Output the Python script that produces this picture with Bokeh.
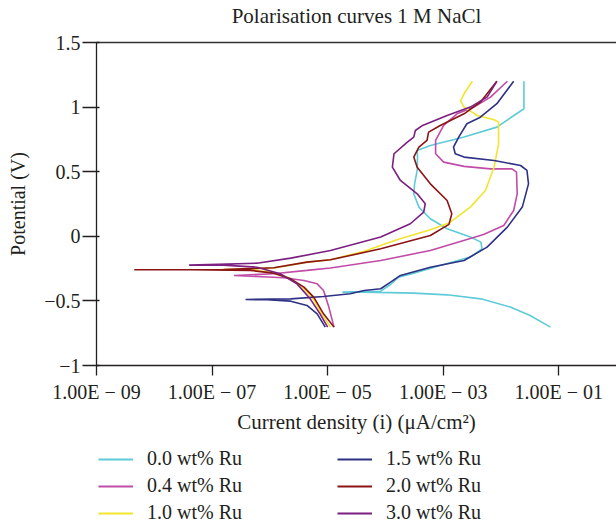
from bokeh.plotting import figure
from bokeh.models import (Range1d, FixedTicker, CustomJSTickFormatter, Legend,
                          LegendItem, LogAxis)
from bokeh.layouts import column
from bokeh.embed import file_html
from bokeh.resources import INLINE

# ---------------- data (current density, potential) ----------------
title_text = "Polarisation curves 1 M NaCl"
x_ticks = [1e-9, 1e-7, 1e-5, 1e-3, 1e-1]
x_tick_labels = ["1.00E \u2212 09", "1.00E \u2212 07", "1.00E \u2212 05",
                 "1.00E \u2212 03", "1.00E \u2212 01"]
y_ticks = [-1, -0.5, 0, 0.5, 1, 1.5]
y_tick_labels = ["\u22121", "\u22120.5", "0", "0.5", "1", "1.5"]

labels = ["0.0 wt% Ru", "0.4 wt% Ru", "1.0 wt% Ru",
          "1.5 wt% Ru", "2.0 wt% Ru", "3.0 wt% Ru"]
colors = ["#5ecbd8", "#c04ca8", "#f2e52e", "#2e3184", "#8b1414", "#7b1f80"]

i_00 = [7.2e-2, 3.2e-2, 1.45e-2, 4.5e-3, 1.17e-3, 3.1e-4, 4.3e-5, 1.8e-5,
        8.3e-5, 1.23e-4, 1.7e-4, 3.1e-4, 8.9e-4, 2.95e-3, 4.7e-3, 4.5e-3,
        2.95e-3, 1.17e-3, 6.0e-4, 3.8e-4, 3.1e-4, 3.2e-4, 3.55e-4, 3.6e-4,
        3.55e-4, 6.0e-4, 2.3e-3, 8.5e-3, 2.5e-2, 2.5e-2]
v_00 = [-0.703, -0.613, -0.548, -0.484, -0.453, -0.44, -0.432, -0.432,
        -0.425, -0.373, -0.316, -0.285, -0.226, -0.161, -0.097, -0.045,
        -0.006, 0.058, 0.136, 0.226, 0.329, 0.406, 0.51, 0.613,
        0.664, 0.703, 0.768, 0.845, 0.987, 1.2]

i_04 = [1.29e-5, 1.05e-5, 8.5e-6, 6.6e-6, 3.9e-6, 1.74e-6, 6.0e-7, 2.4e-7,
        1.17e-6, 4.4e-6, 1.12e-5, 8.3e-5, 6.0e-4, 5.0e-3, 1.12e-2, 1.66e-2,
        1.91e-2, 1.86e-2, 1.55e-2, 6.6e-3, 2.3e-3, 1.02e-3, 7.4e-4, 7.4e-4,
        1.02e-3, 1.74e-3, 3.4e-3, 6.6e-3, 1.29e-2]
v_04 = [-0.703, -0.548, -0.419, -0.368, -0.342, -0.321, -0.311, -0.303,
        -0.29, -0.264, -0.245, -0.187, -0.11, 0.014, 0.084, 0.2,
        0.329, 0.497, 0.522, 0.522, 0.541, 0.574, 0.639, 0.742,
        0.858, 0.948, 1.0, 1.077, 1.2]

i_10 = [1.12e-5, 7.9e-6, 5.4e-6, 3.4e-6, 2.0e-6, 1.02e-6, 4.6e-7, 1.23e-7,
        1.17e-6, 4.4e-6, 1.12e-5, 4.3e-5, 1.58e-4, 6.0e-4, 1.26e-3, 2.95e-3,
        5.4e-3, 7.6e-3, 9.1e-3, 9.1e-3, 7.6e-3, 3.9e-3, 2.3e-3, 2.0e-3,
        2.3e-3, 3.2e-3]
v_10 = [-0.703, -0.6, -0.471, -0.38, -0.316, -0.277, -0.259, -0.259,
        -0.246, -0.2, -0.182, -0.115, -0.027, 0.05, 0.102, 0.226,
        0.355, 0.535, 0.716, 0.884, 0.902, 0.935, 1.0, 1.051,
        1.103, 1.2]

i_15 = [9.1e-6, 6.6e-6, 4.4e-6, 2.3e-6, 8.9e-7, 3.8e-7,
        2.3e-6, 8.5e-6, 2.45e-5, 4.3e-5, 8.3e-5, 1.23e-4, 1.82e-4, 6.0e-4,
        2.3e-3, 5.75e-3, 1.29e-2, 2.34e-2, 3.0e-2, 2.82e-2, 2.19e-2, 7.6e-3,
        2.3e-3, 1.62e-3, 1.51e-3, 1.86e-3, 2.57e-3, 4.4e-3, 8.5e-3, 1.66e-2]
v_15 = [-0.703, -0.6, -0.535, -0.502, -0.491, -0.489,
        -0.484, -0.466, -0.445, -0.419, -0.406, -0.355, -0.303, -0.239,
        -0.187, -0.084, 0.071, 0.226, 0.406, 0.51, 0.548, 0.587,
        0.613, 0.639, 0.69, 0.768, 0.871, 0.922, 1.026, 1.2]

i_20 = [1.29e-5, 8.5e-6, 5.75e-6, 3.9e-6, 2.3e-6, 1.17e-6, 4.6e-7, 4.3e-8,
        4.5e-9, 1.58e-7, 1.17e-6, 4.4e-6, 1.12e-5, 8.3e-5, 6.0e-4, 1.26e-3,
        1.41e-3, 1.17e-3, 6.0e-4, 3.55e-4, 3.1e-4, 3.8e-4, 5.25e-4, 5.6e-4,
        8.9e-4, 2.3e-3, 4.4e-3, 8.5e-3]
v_20 = [-0.703, -0.6, -0.471, -0.393, -0.329, -0.285, -0.264, -0.259,
        -0.259, -0.257, -0.244, -0.2, -0.182, -0.097, 0.006, 0.092,
        0.174, 0.277, 0.406, 0.535, 0.613, 0.69, 0.742, 0.806,
        0.858, 0.948, 1.038, 1.2]

i_30 = [1.0e-5, 7.4e-6, 5.0e-6, 2.95e-6, 1.51e-6, 6.0e-7, 1.58e-7, 4.0e-8,
        6.0e-7, 2.3e-6, 1.12e-5, 8.3e-5, 2.7e-4, 4.6e-4, 4.9e-4, 3.55e-4,
        1.82e-4, 1.32e-4, 1.41e-4, 2.4e-4, 3.1e-4, 3.3e-4, 4.4e-4, 1.17e-3,
        2.95e-3, 5.75e-3, 8.5e-3]
v_30 = [-0.703, -0.6, -0.484, -0.368, -0.29, -0.239, -0.223, -0.223,
        -0.208, -0.169, -0.11, -0.006, 0.097, 0.187, 0.252, 0.329,
        0.432, 0.535, 0.639, 0.729, 0.768, 0.819, 0.858, 0.935,
        1.0, 1.077, 1.2]

series = [(i_00, v_00), (i_04, v_04), (i_10, v_10),
          (i_15, v_15), (i_20, v_20), (i_30, v_30)]

SERIF = "Liberation Serif"
INK = "#231f20"

p = figure(width=616, height=440, x_axis_type="log",
           x_range=Range1d(1e-9, 1), y_range=Range1d(-1, 1.5),
           output_backend="svg", toolbar_location=None,
           min_border_left=96, min_border_right=0,
           min_border_top=42, min_border_bottom=75)

p.grid.visible = False
p.outline_line_color = None
p.background_fill_color = "white"
p.border_fill_color = "white"

xf = CustomJSTickFormatter(args=dict(vals=x_ticks, labs=x_tick_labels), code="""
const i = vals.findIndex(v => Math.abs(Math.log10(v) - Math.log10(tick)) < 1e-6);
return i >= 0 ? labs[i] : "";
""")
yf = CustomJSTickFormatter(args=dict(vals=y_ticks, labs=y_tick_labels), code="""
const i = vals.findIndex(v => Math.abs(v - tick) < 1e-9);
return i >= 0 ? labs[i] : "";
""")

xa = p.xaxis[0]
xa.ticker = FixedTicker(ticks=x_ticks)
xa.formatter = xf
xa.axis_label = "Current density (i) (\u03bcA/cm\u00b2)"
ya = p.yaxis[0]
ya.ticker = FixedTicker(ticks=y_ticks)
ya.formatter = yf
ya.axis_label = "Potential (V)"

for ax in (xa, ya):
    ax.axis_line_color = INK
    ax.axis_line_width = 1.3
    ax.major_tick_line_color = INK
    ax.major_tick_line_width = 1.3
    ax.minor_tick_line_color = None
    ax.major_label_text_font = SERIF
    ax.major_label_text_font_size = "20px"
    ax.major_label_text_color = INK
    ax.axis_label_text_font = SERIF
    ax.axis_label_text_font_style = "normal"
    ax.axis_label_text_color = INK

xa.axis_label_text_font_size = "21px"
ya.axis_label_text_font_size = "20px"
xa.major_tick_out = 10
xa.major_tick_in = 0
xa.major_label_standoff = 5
xa.axis_label_standoff = 4
ya.major_tick_out = 14
ya.major_tick_in = 3
ya.major_label_standoff = 2
ya.axis_label_standoff = 12

# top frame line; its axis label carries the chart title
top = LogAxis(ticker=FixedTicker(ticks=[]), axis_line_color="#333333",
              axis_line_width=1.3, major_tick_line_color=None,
              major_tick_out=0, major_tick_in=0, major_label_standoff=0,
              minor_tick_line_color=None, major_label_text_font_size="0px",
              axis_label=title_text, axis_label_standoff=15,
              axis_label_text_font=SERIF, axis_label_text_font_size="21px",
              axis_label_text_font_style="normal", axis_label_text_color=INK)
p.add_layout(top, "above")

for (cur, pot), col in zip(series, colors):
    p.line(cur, pot, line_color=col, line_width=1.6)

# ---------------- legend strip below the chart ----------------
q = figure(width=616, height=85, x_range=Range1d(0, 1), y_range=Range1d(10, 11),
           output_backend="svg", toolbar_location=None,
           min_border=0, x_axis_location=None, y_axis_location=None)
q.grid.visible = False
q.outline_line_color = None
q.border_fill_color = "white"
q.background_fill_color = "white"

# legend keys: same series, drawn outside this strip's visible range
keys = [q.line(cur, pot, line_color=col, line_width=2)
        for (cur, pot), col in zip(series, colors)]

leg_kw = dict(glyph_width=35, glyph_height=22, label_height=22,
              label_standoff=14, spacing=4, padding=0, margin=0,
              border_line_color=None, background_fill_alpha=0,
              label_text_font=SERIF, label_text_font_size="20px",
              label_text_color=INK, orientation="vertical")
leg1 = Legend(items=[LegendItem(label=labels[k], renderers=[keys[k]]) for k in range(3)],
              location=(2, 1), **leg_kw)
leg2 = Legend(items=[LegendItem(label=labels[k], renderers=[keys[k]]) for k in range(3, 6)],
              location=(241, 1), **leg_kw)
q.add_layout(leg1, "center")
q.add_layout(leg2, "center")

open("out.html", "w").write(file_html(column(p, q, spacing=0), INLINE))
